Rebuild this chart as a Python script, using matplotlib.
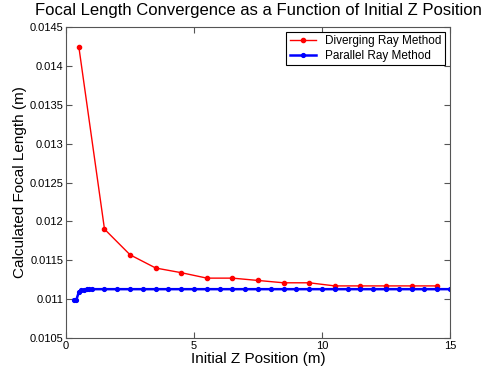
import matplotlib.pyplot as plt
import numpy as np

plt.rcParams['font.family'] = ['Liberation Sans', 'DejaVu Sans']

# данные
z_div = [0.5, 1.5, 2.5, 3.5, 4.5, 5.5, 6.5, 7.5, 8.5, 9.5, 10.5, 11.5, 12.5, 13.5, 14.5]
f_div = [0.01424, 0.01190, 0.01157, 0.01140, 0.01134, 0.01127, 0.01127, 0.01124,
         0.01121, 0.01121, 0.01117, 0.01117, 0.01117, 0.01117, 0.01117]

z_par = [0.3, 0.4, 0.5, 0.6, 0.7, 0.8, 0.9, 1.0, 1.5, 2.0, 2.5, 3.0, 3.5, 4.0, 4.5, 5.0,
         5.5, 6.0, 6.5, 7.0, 7.5, 8.0, 8.5, 9.0, 9.5, 10.0, 10.5, 11.0, 11.5, 12.0,
         12.5, 13.0, 13.5, 14.0, 14.5, 15.0]
f_par = [0.010991, 0.010991, 0.011094, 0.011112, 0.011120, 0.011125, 0.011127, 0.011128] + \
        [0.011128] * 28

y_ticks = [0.0105, 0.011, 0.0115, 0.012, 0.0125, 0.013, 0.0135, 0.014, 0.0145]
y_labels = ['0.0105', '0.011', '0.0115', '0.012', '0.0125', '0.013', '0.0135', '0.014', '0.0145']

fig = plt.figure(figsize=(4.86, 3.72), dpi=100)
ax = fig.add_axes([0.136, 0.0914, 0.79, 0.836])

ax.plot(z_div, f_div, '.-', color='#ff0000', lw=1.0, ms=6, label='Diverging Ray Method')
ax.plot(z_par, f_par, '.-', color='#0000ff', lw=1.8, ms=5.5, label='Parallel Ray Method')

ax.set_xlim(0, 15)
ax.set_ylim(0.0105, 0.0145)
ax.set_xticks([0, 5, 10, 15])
ax.set_yticks(y_ticks)
ax.set_yticklabels(y_labels)
ax.tick_params(direction='in', top=True, right=True, labelsize=8, length=4,
               color='#555555', width=0.8, pad=2)
for s in ax.spines.values():
    s.set_color('#555555')
    s.set_linewidth(0.8)

ax.set_title('Focal Length Convergence as a Function of Initial Z Position', fontsize=12, pad=9)
ax.set_xlabel('Initial Z Position (m)', fontsize=11, labelpad=1)
ax.set_ylabel('Calculated Focal Length (m)', fontsize=11, labelpad=2)

leg = ax.legend(loc='upper right', fontsize=8.5, fancybox=False, edgecolor='#000000',
                borderaxespad=0.4, handlelength=2.2, borderpad=0.3, labelspacing=0.2,
                framealpha=1)
leg.get_frame().set_linewidth(0.8)

fig.savefig('out.png', dpi=100)
